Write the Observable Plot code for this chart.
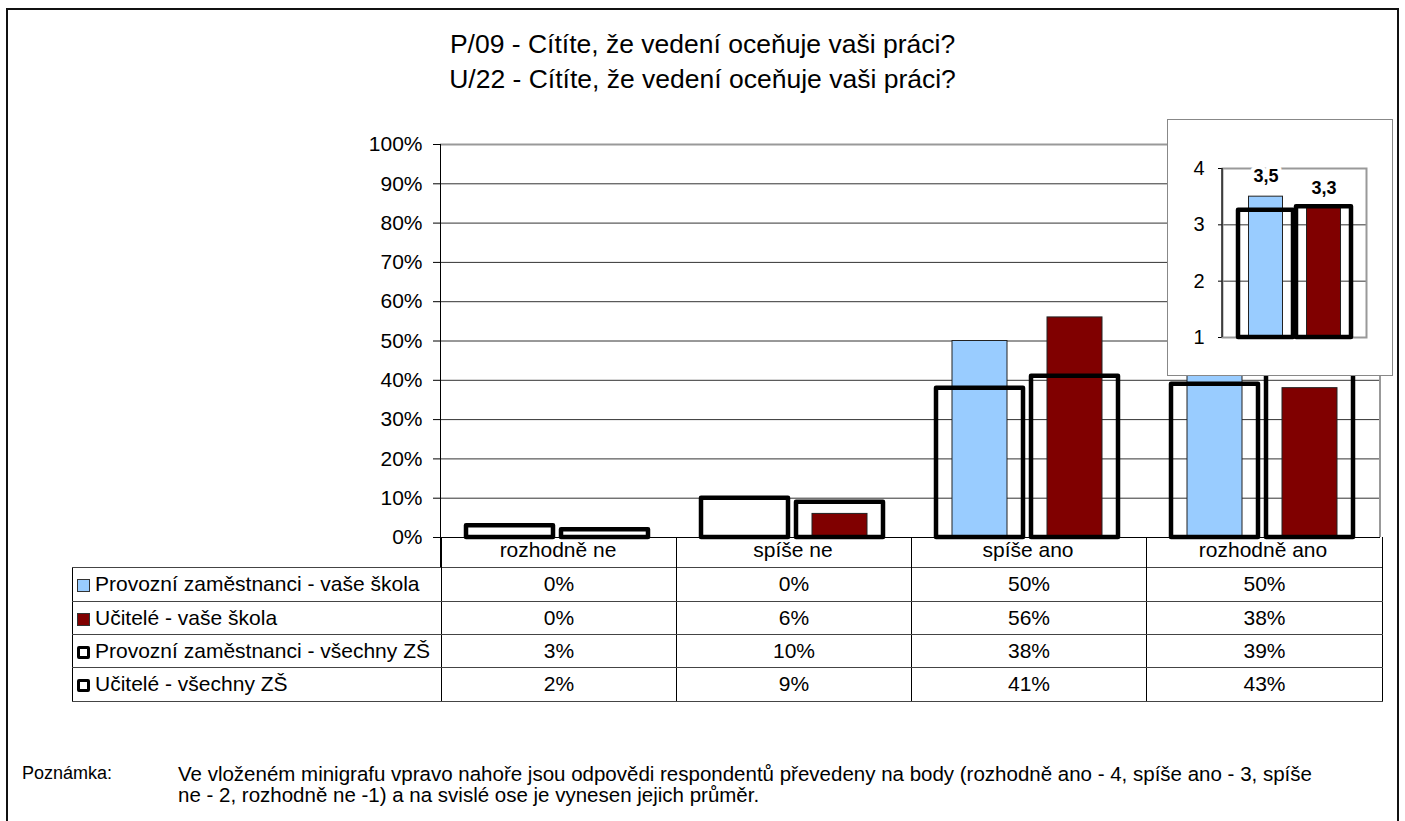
<!DOCTYPE html>
<html><head><meta charset="utf-8">
<script src="https://cdn.jsdelivr.net/npm/d3@7"></script>
<script src="https://cdn.jsdelivr.net/npm/@observablehq/plot@0.6"></script>
<style>
body{margin:0;background:#fff;font-family:"Liberation Sans",Arial,sans-serif;color:#000;}
#wrap{position:relative;width:1405px;height:821px;overflow:hidden;background:#fff;}
.abs{position:absolute;}
#tbl{position:absolute;left:72px;top:537px;border-collapse:collapse;table-layout:fixed;font-size:21px;}
#tbl td{padding:0;text-align:center;white-space:nowrap;border-left:1px solid #000;border-right:1px solid #000;}
#tbl tr.d td{border-top:1px solid #444;border-bottom:1px solid #444;}
#tbl tr.d td.lab{text-align:left;padding-left:4px;border-left:1px solid #000;}
.sw{display:inline-block;box-sizing:border-box;width:13px;height:13px;margin-right:5px;vertical-align:-1px;}
#note{font-size:20.5px;line-height:21px;}
</style></head><body>
<div id="wrap">
  <div class="abs" style="left:6px;top:8px;width:1393px;height:840px;border:2px solid #111;box-sizing:border-box;"></div>
  <div class="abs" id="title" style="left:0;top:27px;width:1405px;text-align:center;font-size:26.5px;line-height:35px;"></div>
  <div class="abs" id="main" style="left:0;top:0;"></div>
  <table id="tbl"></table>
  <div class="abs" id="axisline" style="left:440px;top:144px;width:1px;height:423px;background:#000;"></div>
  <div class="abs" id="rightline" style="left:1379px;top:143px;width:2px;height:394px;background:#999;"></div>
  <div class="abs" style="left:1167px;top:119px;width:226px;height:257px;background:#fff;border:1px solid #888;box-sizing:border-box;"></div>
  <div class="abs" id="inset" style="left:1167px;top:119px;"></div>
  <div class="abs" id="note" style="left:22px;top:763px;width:1370px;"></div>
</div>
<script>
// ---- data ----
const titleLines = ["P/09 - Cítíte, že vedení oceňuje vaši práci?", "U/22 - Cítíte, že vedení oceňuje vaši práci?"];
const categories = ["rozhodně ne", "spíše ne", "spíše ano", "rozhodně ano"];
const groups = ["Provozní zaměstnanci", "Učitelé"];
const seriesNames = ["Provozní zaměstnanci - vaše škola", "Učitelé - vaše škola", "Provozní zaměstnanci - všechny ZŠ", "Učitelé - všechny ZŠ"];
const provozniVase = [0, 0, 50, 50];
const uciteleVase = [0, 6, 56, 38];
const provozniVsechny = [3, 10, 38, 39];
const uciteleVsechny = [2, 9, 41, 43];
const yTicks = [0, 10, 20, 30, 40, 50, 60, 70, 80, 90, 100];
const insetVase = [3.5, 3.3];
const insetVsechny = [3.26, 3.32];
const insetTicks = [1, 2, 3, 4];
const colors = ["#99CCFF", "#800000"];
const noteLabel = "Poznámka:";
const noteLines = ["Ve vloženém minigrafu vpravo nahoře jsou odpovědi respondentů převedeny na body (rozhodně ano - 4, spíše ano - 3, spíše", "ne - 2, rozhodně ne -1) a na svislé ose je vynesen jejich průměr."];

// ---- title ----
document.getElementById("title").innerHTML = titleLines.join("<br>");

// ---- main chart ----
const filled = categories.flatMap((c, i) => [
  {cat: c, g: groups[0], v: provozniVase[i]},
  {cat: c, g: groups[1], v: uciteleVase[i]}
]);
const outline = categories.flatMap((c, i) => [
  {cat: c, g: groups[0], v: provozniVsechny[i]},
  {cat: c, g: groups[1], v: uciteleVsechny[i]}
]);

const main = Plot.plot({
  width: 1405, height: 580,
  marginLeft: 440, marginRight: 25, marginTop: 144, marginBottom: 43,
  style: {fontSize: "21px", fontFamily: "'Liberation Sans', Arial, sans-serif", color: "#000", background: "transparent", overflow: "visible"},
  fx: {domain: categories, padding: 0, label: null, axis: "bottom", tickSize: 0, tickPadding: 5},
  x: {domain: groups, paddingInner: 0.083, paddingOuter: 0.266, axis: null},
  y: {domain: [0, 100], ticks: yTicks, tickFormat: d => d + "%", tickSize: 7, tickPadding: 11, label: null},
  color: {domain: groups, range: colors},
  marks: [
    Plot.ruleY(yTicks.filter(d => d > 0 && d < 100), {stroke: "#333", strokeWidth: 1}),
    Plot.ruleY([100], {stroke: "#999", strokeWidth: 2}),
    Plot.barY(filled.filter(d => d.v > 0), {fx: "cat", x: "g", y: "v", fill: "g", stroke: "#222", strokeWidth: 1, insetLeft: 16, insetRight: 16}),
    Plot.barY(outline, {fx: "cat", x: "g", y: "v", fill: "none", stroke: "#000", strokeWidth: 4.5, strokeLinejoin: "round"}),
    Plot.ruleY([0], {stroke: "#000", strokeWidth: 1})
  ]
});
document.getElementById("main").appendChild(main);

// ---- data table ----
const tbl = document.getElementById("tbl");
const cg = document.createElement("colgroup");
[369, 235, 235, 235, 236].forEach(w => { const c = document.createElement("col"); c.style.width = w + "px"; cg.appendChild(c); });
tbl.appendChild(cg);
const hdr = document.createElement("tr");
hdr.style.height = "30px";
for (let j = 0; j < 5; j++) {
  const td = document.createElement("td");
  if (j === 0) { td.style.border = "none"; }
  hdr.appendChild(td);
}
tbl.appendChild(hdr);
const rowsVals = [provozniVase, uciteleVase, provozniVsechny, uciteleVsechny];
const swatchStyles = [
  "background:#99CCFF;border:1.5px solid #333;",
  "background:#800000;border:1.5px solid #333;",
  "background:#fff;border:3.5px solid #000;border-radius:2px;",
  "background:#fff;border:3.5px solid #000;border-radius:2px;"
];
const rowHeights = [34, 33, 33, 34];
rowsVals.forEach((vals, r) => {
  const tr = document.createElement("tr");
  tr.className = "d";
  tr.style.height = rowHeights[r] + "px";
  const lab = document.createElement("td");
  lab.className = "lab";
  lab.innerHTML = `<span class="sw" style="${swatchStyles[r]}"></span>${seriesNames[r]}`;
  tr.appendChild(lab);
  vals.forEach(v => { const td = document.createElement("td"); td.textContent = v + "%"; tr.appendChild(td); });
  tbl.appendChild(tr);
});

// ---- inset mini chart ----
const insetData = groups.map((g, i) => ({g, v: insetVase[i], all: insetVsechny[i]}));
const leftLine = (index, scales, values, dims) => {
  const y = scales.y;
  const ln = d3.create("svg:line")
    .attr("x1", dims.marginLeft).attr("x2", dims.marginLeft)
    .attr("y1", y(4)).attr("y2", y(1))
    .attr("stroke", "#000").attr("stroke-width", 1.2);
  return ln.node();
};
const inset = Plot.plot({
  width: 226, height: 257,
  marginLeft: 55, marginRight: 27, marginTop: 49, marginBottom: 39,
  style: {fontSize: "20px", fontFamily: "'Liberation Sans', Arial, sans-serif", color: "#000", background: "transparent", overflow: "visible"},
  x: {domain: groups, paddingInner: 0.052, paddingOuter: 0.259, axis: null},
  y: {domain: [1, 4], ticks: insetTicks, tickFormat: d => String(d), tickSize: 4, tickPadding: 14, label: null},
  color: {domain: groups, range: colors},
  marks: [
    Plot.ruleY([2, 3], {stroke: "#333", strokeWidth: 1}),
    Plot.frame({stroke: "#999", strokeWidth: 2}),
    Plot.barY(insetData, {x: "g", y1: 1, y2: "v", fill: "g", stroke: "#222", strokeWidth: 1, insetLeft: 10.5, insetRight: 10.5}),
    Plot.barY(insetData, {x: "g", y1: 1, y2: "all", fill: "none", stroke: "#000", strokeWidth: 4.5, strokeLinejoin: "round"}),
    leftLine,
    Plot.text(insetData, {x: "g", y: "v", text: d => String(d.v).replace(".", ","), dy: -20, fontWeight: "bold", fontSize: 18, fill: "#000", stroke: "#fff", strokeWidth: 8})
  ]
});
document.getElementById("inset").appendChild(inset);

// ---- note ----
document.getElementById("note").innerHTML =
  `<div style="position:absolute;left:0;top:0;font-size:18px;">${noteLabel}</div>` +
  `<div style="position:absolute;left:156px;top:0;white-space:nowrap;">${noteLines.join("<br>")}</div>`;
</script>
</body></html>
